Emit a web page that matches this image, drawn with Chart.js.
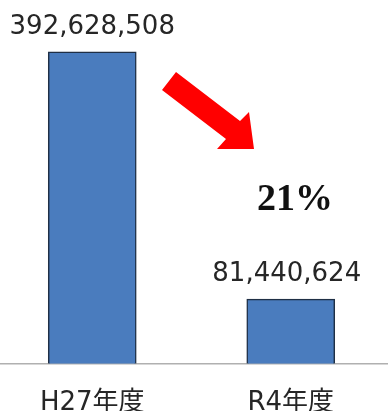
<!DOCTYPE html>
<html>
<head>
    <meta charset="utf-8">
    <title>H27年度 / R4年度</title>
    <script src="https://cdn.jsdelivr.net/npm/chart.js"></script>
    <style>
        body { margin: 0; background: #fff; }
        #frame { position: relative; width: 388px; height: 411px; overflow: hidden; }
        #holder { position: absolute; left: -7px; top: 0; }
    </style>
</head>
<body>
    <div id="frame">
        <div id="holder">
            <canvas id="amountChart" width="397" height="447"></canvas>
        </div>
    </div>
    <script>
        // Amounts per fiscal year
        const years = ['H27年度', 'R4年度'];
        const amounts = [392628508, 81440624];
        const ratioText = '21';

        const SHIFT = 7; // canvas is shifted left by this many px

        // value labels above each bar
        const valueLabels = {
            id: 'valueLabels',
            afterDatasetsDraw(chart) {
                const ctx = chart.ctx;
                const meta = chart.getDatasetMeta(0);
                ctx.save();
                ctx.font = '26px "DejaVu Sans"';
                ctx.fillStyle = '#262626';
                ctx.textAlign = 'center';
                ctx.textBaseline = 'alphabetic';
                meta.data.forEach((bar, i) => {
                    ctx.fillText(amounts[i].toLocaleString('en-US'), bar.x - (i === 1 ? 4 : 0), bar.y - 18);
                });
                ctx.restore();
            }
        };

        // red arrow and the percentage
        const decrease = {
            id: 'decrease',
            afterDraw(chart) {
                const ctx = chart.ctx;
                const pts = [[176, 72], [240, 121], [249, 112], [254, 149], [217, 149], [226, 139], [162, 90]];
                ctx.save();
                ctx.translate(SHIFT, 0);
                ctx.beginPath();
                pts.forEach(([x, y], i) => i ? ctx.lineTo(x, y) : ctx.moveTo(x, y));
                ctx.closePath();
                ctx.fillStyle = '#ff0000';
                ctx.fill();

                ctx.fillStyle = '#111';
                ctx.textBaseline = 'alphabetic';
                ctx.font = 'bold 38px "Liberation Serif"';
                ctx.fillText(ratioText + '%', 257, 210);
                ctx.restore();
            }
        };

        new Chart(document.getElementById('amountChart').getContext('2d'), {
            type: 'bar',
            data: {
                labels: years,
                datasets: [{
                    data: amounts,
                    backgroundColor: '#4a7cbe',
                    borderColor: '#1f2f45',
                    borderWidth: 1.5,
                    borderSkipped: 'bottom',
                    barThickness: 88,
                }],
            },
            options: {
                responsive: false,
                animation: false,
                devicePixelRatio: 1,
                layout: { padding: { top: 0, bottom: 4, left: 0, right: 0 } },
                plugins: {
                    legend: { display: false },
                    tooltip: { enabled: false },
                },
                scales: {
                    x: {
                        grid: { display: false, drawTicks: false },
                        border: { display: true, color: '#b0b0b0', width: 1.5 },
                        ticks: {
                            padding: 24,
                            color: '#262626',
                            font: { family: '"DejaVu Sans", "Noto Sans CJK JP"', size: 26, lineHeight: 1.2 },
                        },
                    },
                    y: {
                        display: false,
                        min: 0,
                        max: 458000000,
                    },
                },
            },
            plugins: [valueLabels, decrease],
        });
    </script>
</body>
</html>
